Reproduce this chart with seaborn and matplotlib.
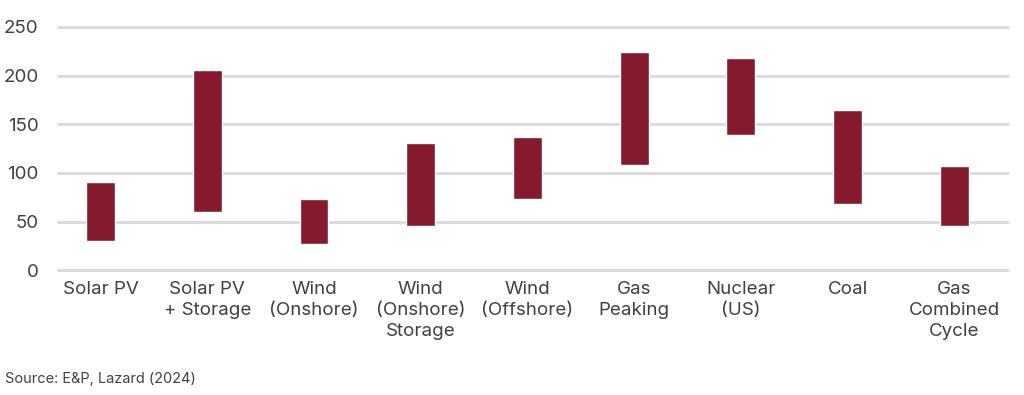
import numpy as np
import pandas as pd
import matplotlib
matplotlib.use("Agg")
import matplotlib.pyplot as plt
import seaborn as sns

# === DATA ===
categories = ["Solar PV", "Solar PV\n+ Storage", "Wind\n(Onshore)", "Wind\n(Onshore)\nStorage",
              "Wind\n(Offshore)", "Gas\nPeaking", "Nuclear\n(US)", "Coal", "Gas\nCombined\nCycle"]
low = [30, 60, 27, 45, 73, 108, 139, 68, 45]
high = [91, 206, 73, 131, 137, 224, 218, 165, 107]
y_ticks = [0, 50, 100, 150, 200, 250]
source = "Source: E&P, Lazard (2024)"

df = pd.DataFrame({"tech": categories, "low": low, "high": high})
df["span"] = df["high"] - df["low"]

# === SETTINGS ===
sns.set_style("white")
plt.rcParams["font.family"] = ["Inter", "DejaVu Sans"]
text_color = "#404040"
bar_color = "#851a2e"

fig = plt.figure(figsize=(10.24, 3.95), dpi=100)
ax = fig.add_axes([0.0566, 0.316, 0.9274, 0.616])

sns.barplot(data=df, x="tech", y="span", bottom=df["low"].values, color=bar_color,
            width=0.27, saturation=1, ax=ax, zorder=3)

ax.set_ylim(0, 250)
ax.set_xlim(-0.4, 8.5)
ax.set_yticks(y_ticks)
ax.yaxis.grid(True, color="#d9d9d9", linewidth=2, zorder=0)
for gl in ax.get_ygridlines():
    gl.set_clip_on(False)
ax.set_axisbelow(True)
for s in ax.spines.values():
    s.set_visible(False)
ax.set_xlabel("")
ax.set_ylabel("")
ax.tick_params(axis="y", length=0, pad=14, labelsize=13.5, labelcolor=text_color)
ax.tick_params(axis="x", length=0, pad=8, labelsize=13.5, labelcolor=text_color)
for lbl in ax.get_xticklabels():
    lbl.set_multialignment("center")
    lbl.set_linespacing(1.3)

fig.text(0.005, 1 - 379 / 395, source, fontsize=10.5, color=text_color, va="center", ha="left")

plt.savefig("out.png", dpi=100)
plt.close()
